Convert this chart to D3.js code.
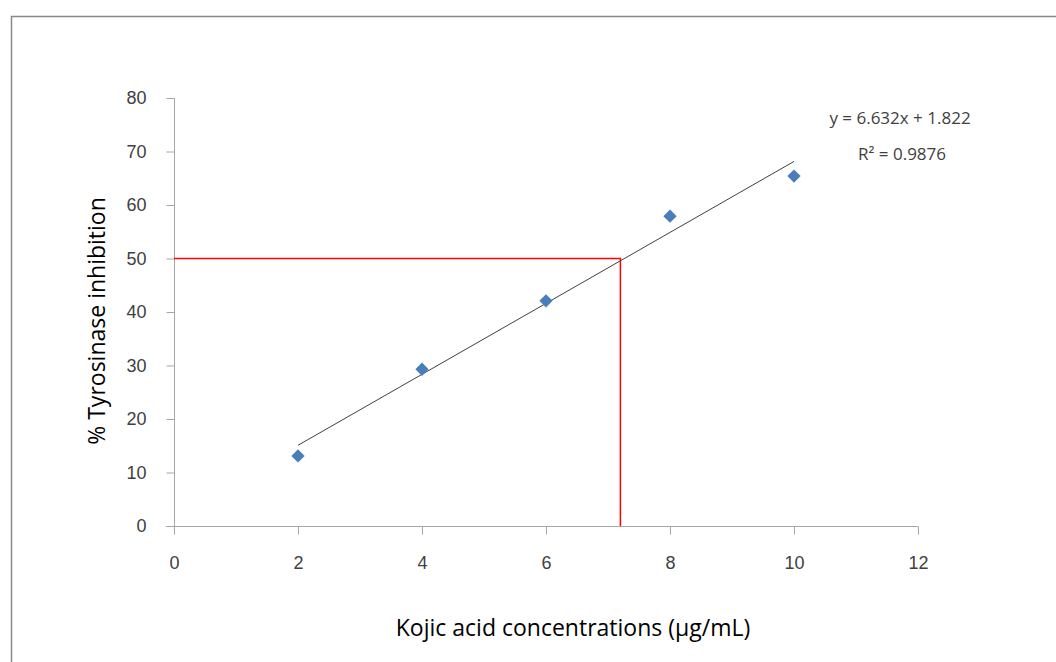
<!DOCTYPE html>
<html>
<head>
<meta charset="utf-8">
<script src="https://cdn.jsdelivr.net/npm/d3@7"></script>
<style>
  body { margin: 0; background: #fff; }
  svg { display: block; font-family: 'Open Sans', 'Noto Sans', sans-serif; }
</style>
</head>
<body>
<svg width="1056" height="662"></svg>
<script>
const w = 1056;
const h = 662;

// data
const concentrations = [2, 4, 6, 8, 10];
const inhibition = [13.1, 29.3, 42.1, 57.9, 65.4];
const xTicks = [0, 2, 4, 6, 8, 10, 12];
const yTicks = [0, 10, 20, 30, 40, 50, 60, 70, 80];
const slope = 6.632;
const intercept = 1.822;
const ic50 = 7.2;
const target = 50;

const canvas = d3.select('svg');

// outer chart frame
canvas.append('rect')
  .attr('x', 11.5).attr('y', 16.5)
  .attr('width', w).attr('height', h)
  .attr('fill', 'none').attr('stroke', '#888').attr('stroke-width', 1.5);

const xScale = d3.scaleLinear().domain([0, 12]).range([174, 918]);
const yScale = d3.scaleLinear().domain([0, 80]).range([526, 98]);

const axisColor = '#a6a6a6';
const labelColor = '#404040';

// y axis
const yAxis = canvas.append('g')
  .attr('transform', 'translate(174.5,0)')
  .call(d3.axisLeft(yScale).tickValues(yTicks).tickSize(8).tickPadding(20));
yAxis.select('.domain').attr('d', 'M0,98V526');

// x axis
const xAxis = canvas.append('g')
  .attr('transform', 'translate(0,526.5)')
  .call(d3.axisBottom(xScale).tickValues(xTicks).tickSize(8).tickPadding(22));
xAxis.select('.domain').attr('d', 'M166,0H918');

canvas.selectAll('.domain, .tick line').attr('stroke', axisColor);
canvas.selectAll('.tick text')
  .attr('fill', labelColor)
  .style('font-size', '18px');

// red guide lines at 50 %
canvas.append('path')
  .attr('d', `M${xScale(0)},${yScale(target)}H${xScale(ic50)}V${yScale(0)}`)
  .attr('fill', 'none').attr('stroke', '#ff0000').attr('stroke-width', 1.5);

// trend line
canvas.append('line')
  .attr('x1', xScale(2)).attr('y1', yScale(slope * 2 + intercept))
  .attr('x2', xScale(10)).attr('y2', yScale(slope * 10 + intercept))
  .attr('stroke', '#404040').attr('stroke-width', 1);

// data points (square rotated into a diamond)
const diamond = d3.symbol().type(d3.symbolSquare).size(88);
canvas.selectAll('.pt')
  .data(concentrations)
  .enter()
  .append('path')
  .attr('class', 'pt')
  .attr('d', diamond)
  .attr('transform', (d, i) => `translate(${xScale(d)},${yScale(inhibition[i])}) rotate(45)`)
  .attr('fill', '#4a7ebb');

// equation labels
canvas.append('text')
  .attr('x', 900).attr('y', 124)
  .attr('text-anchor', 'middle')
  .attr('fill', labelColor)
  .style('font-size', '17px')
  .text(`y = ${slope}x + ${intercept}`);
canvas.append('text')
  .attr('x', 902).attr('y', 160)
  .attr('text-anchor', 'middle')
  .attr('fill', labelColor)
  .style('font-size', '17px')
  .text('R² = 0.9876');

// axis titles
canvas.append('text')
  .attr('transform', 'translate(105,321) rotate(-90)')
  .attr('text-anchor', 'middle')
  .attr('fill', '#000')
  .style('font-size', '23px')
  .text('% Tyrosinase inhibition');

canvas.append('text')
  .attr('x', 573).attr('y', 636)
  .attr('text-anchor', 'middle')
  .attr('fill', '#000')
  .style('font-size', '23px')
  .text('Kojic acid concentrations (µg/mL)');
</script>
</body>
</html>
